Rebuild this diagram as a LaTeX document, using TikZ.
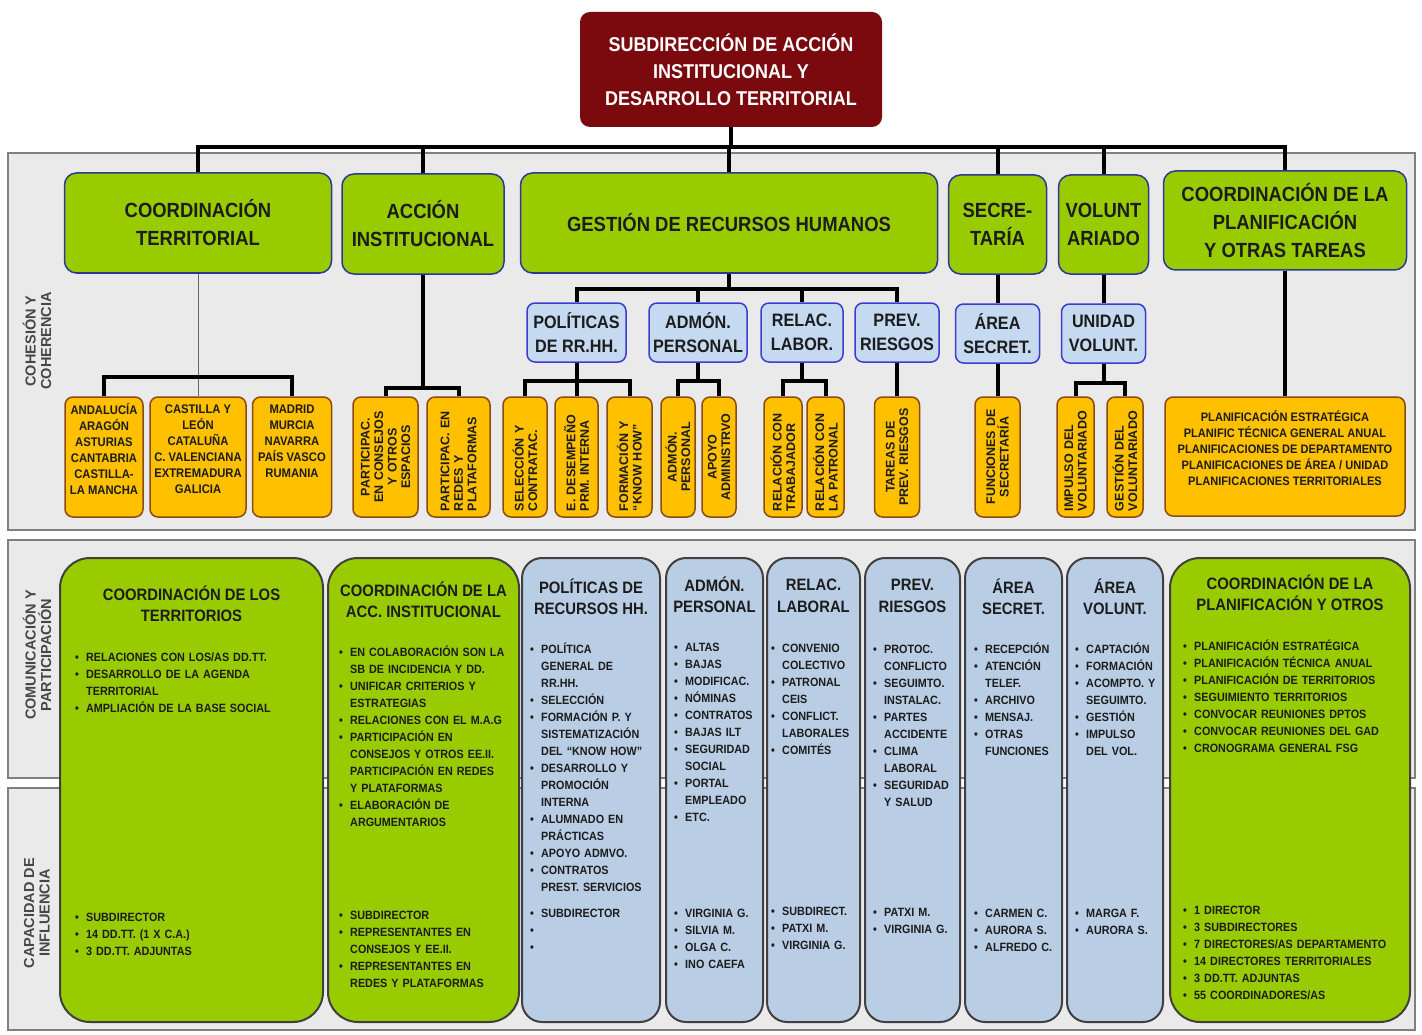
\documentclass[tikz,border=0pt]{standalone}
\usepackage{fontspec}
\setmainfont{Liberation Sans}[FakeStretch=0.9]
\newfontfamily\widefont{Liberation Sans}
\usepackage{tikz}
\definecolor{head red}{RGB}{122,10,14}
\definecolor{leaf green}{RGB}{153,204,0}
\definecolor{frame navy}{RGB}{45,55,150}
\definecolor{unit blue}{RGB}{197,217,241}
\definecolor{unit edge}{RGB}{60,60,205}
\definecolor{column blue}{RGB}{185,205,229}
\definecolor{task amber}{RGB}{255,192,0}
\definecolor{task edge}{RGB}{140,75,20}
\definecolor{band gray}{RGB}{234,234,234}
\definecolor{ink}{RGB}{28,28,28}
\newcommand{\bul}[1]{\hangindent=11pt\hangafter=1\noindent
  \makebox[11pt][l]{\textbullet}{\let\\\newline #1}\par}

\begin{document}
\begin{tikzpicture}[x=1pt, y=-1pt, line join=miter,
    headbox/.style = {fill=head red, text=white, rounded corners=10, align=center,
                      font=\fontsize{20}{27}\selectfont\bfseries},
    areabox/.style = {fill=leaf green, draw=frame navy, line width=1.5, rounded corners=12,
                      text=ink, align=center, font=\fontsize{20.5}{28}\selectfont\bfseries},
    unitbox/.style = {fill=unit blue, draw=unit edge, line width=1.5, rounded corners=8,
                      minimum height=59, text=ink, align=center,
                      font=\fontsize{18}{24}\selectfont\bfseries},
    taskbox/.style = {fill=task amber, draw=task edge, line width=1.5, rounded corners=8,
                      minimum height=120, text=ink, align=center,
                      font=\fontsize{12.5}{16}\selectfont\bfseries},
    taskrot/.style = {fill=task amber, draw=task edge, line width=1.5, rounded corners=8,
                      rotate=90, minimum width=120, text width=108, align=left, text=ink,
                      font=\widefont\fontsize{12.5}{13.5}\selectfont\bfseries},
    colgreen/.style = {fill=leaf green, draw=black!75, line width=2, rounded corners=30,
                       minimum height=464},
    colblue/.style = {fill=column blue, draw=black!75, line width=2, rounded corners=20,
                      minimum height=464},
    coltitle/.style = {align=center, text=ink, font=\fontsize{16.5}{21.5}\selectfont\bfseries},
    itemlist/.style = {anchor=base west, inner sep=0, text=ink, align=left,
                       font=\fontsize{12}{17}\selectfont\bfseries},
    band/.style = {fill=band gray, draw=black!50, line width=1.5},
    bandlabel/.style = {rotate=90, align=center, text=black!72,
                        font=\widefont\fontsize{14.5}{15.5}\selectfont\bfseries},
    wire/.style = {line width=4, black},
    thinwire/.style = {line width=0.8, black!60}]
  \useasboundingbox (0,0) rectangle (1422,1035);

  % the three bands
  \draw[band] (8,153) rectangle (1415,530);
  \draw[band] (8,540) rectangle (1415,778);
  \draw[band] (8,788) rectangle (1415,1030);
  \node[bandlabel] (lab1) at (37,341) {COHESIÓN Y\\COHERENCIA};
  \node[bandlabel] (lab2) at (37,655) {COMUNICACIÓN Y\\PARTICIPACIÓN};
  \node[bandlabel] (lab3) at (37,913) {CAPACIDAD DE\\INFLUENCIA};

  % head
  \node[headbox, minimum width=302, minimum height=115] (top) at (731,69.5)
    {SUBDIRECCIÓN DE ACCIÓN\\INSTITUCIONAL Y\\DESARROLLO TERRITORIAL};

  % areas
  \node[areabox, minimum width=267, minimum height=100] (gt) at (198,223) {COORDINACIÓN\\TERRITORIAL};
  \node[areabox, minimum width=162, minimum height=100] (ga) at (423,224) {ACCIÓN\\INSTITUCIONAL};
  \node[areabox, minimum width=417, minimum height=100] (gr) at (729,223) {GESTIÓN DE RECURSOS HUMANOS};
  \node[areabox, minimum width=98, minimum height=99] (gs) at (997.5,224.5) {SECRE-\\TARÍA};
  \node[areabox, minimum width=90, minimum height=99] (gv) at (1103.5,224.5) {VOLUNT\\ARIADO};
  \node[areabox, minimum width=243, minimum height=99] (gp) at (1285,220.5)
    {COORDINACIÓN DE LA\\PLANIFICACIÓN\\Y OTRAS TAREAS};

  % units
  \node[unitbox, minimum width=99] (bp) at (576.5,332.5) {POLÍTICAS\\DE RR.HH.};
  \node[unitbox, minimum width=98] (ba) at (698,332.5) {ADMÓN.\\PERSONAL};
  \node[unitbox, minimum width=82] (bl) at (802,332.5) {RELAC.\\LABOR.};
  \node[unitbox, minimum width=84] (br) at (897,332.5) {PREV.\\RIESGOS};
  \node[unitbox, minimum width=84] (bs) at (997.5,333.5) {ÁREA\\SECRET.};
  \node[unitbox, minimum width=84] (bu) at (1103.5,333.5) {UNIDAD\\VOLUNT.};

  % tasks
  \node[taskbox, minimum width=78] (yt1) at (104,457)
    {ANDALUCÍA\\ARAGÓN\\ASTURIAS\\CANTABRIA\\CASTILLA-\\LA MANCHA\\\mbox{}};
  \node[taskbox, minimum width=96] (yt2) at (198,457)
    {CASTILLA Y\\LEÓN\\CATALUÑA\\C. VALENCIANA\\EXTREMADURA\\GALICIA\\\mbox{}};
  \node[taskbox, minimum width=79] (yt3) at (292,457)
    {MADRID\\MURCIA\\NAVARRA\\PAÍS VASCO\\RUMANIA\\\mbox{}\\\mbox{}};
  \node[taskrot, minimum height=65, align=center] (ya1) at (385.5,457)
    {PARTICIPAC.\\EN CONSEJOS\\Y OTROS\\ESPACIOS};
  \node[taskrot, minimum height=63] (ya2) at (458.5,457) {PARTICIPAC. EN\\REDES Y\\PLATAFORMAS};
  \node[taskrot, minimum height=44] (yh1) at (525,457) {SELECCIÓN Y\\CONTRATAC.};
  \node[taskrot, minimum height=43] (yh2) at (576.5,457) {E. DESEMPEÑO\\PRM. INTERNA};
  \node[taskrot, minimum height=45] (yh3) at (629.5,457) {FORMACIÓN Y\\“KNOW HOW”};
  \node[taskrot, minimum height=34, align=center] (ym1) at (678,457) {ADMÓN.\\PERSONAL};
  \node[taskrot, minimum height=34, align=center] (ym2) at (719,457) {APOYO\\ADMINISTRVO};
  \node[taskrot, minimum height=38] (yl1) at (783,457) {RELACIÓN CON\\TRABAJADOR};
  \node[taskrot, minimum height=37] (yl2) at (825.5,457) {RELACIÓN CON\\LA PATRONAL};
  \node[taskrot, minimum height=45, align=center] (yr) at (897,457) {TAREAS DE\\PREV. RIESGOS};
  \node[taskrot, minimum height=45, align=center] (ys) at (997.5,457) {FUNCIONES DE\\SECRETARÍA};
  \node[taskrot, minimum height=37] (yv1) at (1075.5,457) {IMPULSO DEL\\VOLUNTARIADO};
  \node[taskrot, minimum height=36] (yv2) at (1125,457) {GESTIÓN DEL\\VOLUNTARIADO};
  \node[taskbox, minimum width=240, minimum height=119, font=\fontsize{12.3}{16}\selectfont\bfseries]
    (yq) at (1285,456.5)
    {PLANIFICACIÓN ESTRATÉGICA\\PLANIFIC TÉCNICA GENERAL ANUAL\\PLANIFICACIONES DE DEPARTAMENTO\\
     PLANIFICACIONES DE ÁREA / UNIDAD\\PLANIFICACIONES TERRITORIALES\\\mbox{}};

  % links
  \draw[wire] (top.south) -- ++(0,20) -| (gt.north);
  \draw[wire] (top.south) -- ++(0,20) -| (ga.north);
  \draw[wire] (top.south) -- ++(0,20) -| (gr.north);
  \draw[wire] (top.south) -- ++(0,20) -| (gs.north);
  \draw[wire] (top.south) -- ++(0,20) -| (gv.north);
  \draw[wire] (top.south) -- ++(0,20) -| (gp.north);
  \draw[thinwire] (gt.south) -- (yt2.north);
  \draw[wire] (yt1.north) -- ++(0,-19) -| (yt3.north);
  \draw[wire] (ga.south) -- ++(0,113) -| (ya1.east);
  \draw[wire] (ga.south) -- ++(0,113) -| (ya2.east);
  \draw[wire] (gr.south) -- ++(0,15) -| (bp.north);
  \draw[wire] (gr.south) -- ++(0,15) -| (ba.north);
  \draw[wire] (gr.south) -- ++(0,15) -| (bl.north);
  \draw[wire] (gr.south) -- ++(0,15) -| (br.north);
  \draw[wire] (bp.south) -- ++(0,18) -| (yh1.east);
  \draw[wire] (bp.south) -- ++(0,18) -| (yh2.east);
  \draw[wire] (bp.south) -- ++(0,18) -| (yh3.east);
  \draw[wire] (ba.south) -- ++(0,18) -| (ym1.east);
  \draw[wire] (ba.south) -- ++(0,18) -| (ym2.east);
  \draw[wire] (bl.south) -- ++(0,18) -| (yl1.east);
  \draw[wire] (bl.south) -- ++(0,18) -| (yl2.east);
  \draw[wire] (br.south) -- (yr.east);
  \draw[wire] (gs.south) -- (bs.north);
  \draw[wire] (bs.south) -- (ys.east);
  \draw[wire] (gv.south) -- (bu.north);
  \draw[wire] (bu.south) -- ++(0,19) -| (yv1.east);
  \draw[wire] (bu.south) -- ++(0,19) -| (yv2.east);
  \draw[wire] (gp.south) -- (yq.north);

  % columns
  \node[colgreen, minimum width=263] (c1) at (191.5,790) {};
  \node[colgreen, minimum width=191] (c2) at (423.5,790) {};
  \node[colblue, minimum width=138] (c3) at (591,790) {};
  \node[colblue, minimum width=97] (c4) at (714.5,790) {};
  \node[colblue, minimum width=93] (c5) at (813.5,790) {};
  \node[colblue, minimum width=95] (c6) at (912.5,790) {};
  \node[colblue, minimum width=97] (c7) at (1013.5,790) {};
  \node[colblue, minimum width=96] (c8) at (1115,790) {};
  \node[colgreen, minimum width=240] (c9) at (1290,790) {};

  \node[coltitle] (h1) at (191.5,604) {COORDINACIÓN DE LOS\\TERRITORIOS};
  \node[coltitle] (h2) at (423.5,600) {COORDINACIÓN DE LA\\ACC. INSTITUCIONAL};
  \node[coltitle] (h3) at (591,597) {POLÍTICAS DE\\RECURSOS HH.};
  \node[coltitle] (h4) at (714.5,595) {ADMÓN.\\PERSONAL};
  \node[coltitle] (h5) at (813.5,596) {RELAC.\\LABORAL};
  \node[coltitle] (h6) at (912.5,596) {PREV.\\RIESGOS};
  \node[coltitle] (h7) at (1013.5,597) {ÁREA\\SECRET.};
  \node[coltitle] (h8) at (1115,597) {ÁREA\\VOLUNT.};
  \node[coltitle] (h9) at (1290,593) {COORDINACIÓN DE LA\\PLANIFICACIÓN Y OTROS};

  % what each one does
  \node[itemlist, text width=240] (t1) at (75,661)
    {\bul{RELACIONES CON LOS/AS DD.TT.}\bul{DESARROLLO DE LA AGENDA\\TERRITORIAL}
     \bul{AMPLIACIÓN DE LA BASE SOCIAL}};
  \node[itemlist, text width=175] (t2) at (339,656)
    {\bul{EN COLABORACIÓN SON LA\\SB DE INCIDENCIA Y DD.}\bul{UNIFICAR CRITERIOS Y\\ESTRATEGIAS}
     \bul{RELACIONES CON EL M.A.G}
     \bul{PARTICIPACIÓN EN\\CONSEJOS Y OTROS EE.II.\\PARTICIPACIÓN EN REDES\\Y PLATAFORMAS}
     \bul{ELABORACIÓN DE\\ARGUMENTARIOS}};
  \node[itemlist, text width=126] (t3) at (530,653)
    {\bul{POLÍTICA\\GENERAL DE\\RR.HH.}\bul{SELECCIÓN}
     \bul{FORMACIÓN P. Y\\SISTEMATIZACIÓN\\DEL “KNOW HOW”}\bul{DESARROLLO Y\\PROMOCIÓN\\INTERNA}
     \bul{ALUMNADO EN\\PRÁCTICAS}\bul{APOYO ADMVO.}\bul{CONTRATOS\\PREST. SERVICIOS}};
  \node[itemlist, text width=87] (t4) at (674,651)
    {\bul{ALTAS}\bul{BAJAS}\bul{MODIFICAC.}\bul{NÓMINAS}\bul{CONTRATOS}\bul{BAJAS ILT}
     \bul{SEGURIDAD\\SOCIAL}\bul{PORTAL\\EMPLEADO}\bul{ETC.}};
  \node[itemlist, text width=87] (t5) at (771,652)
    {\bul{CONVENIO\\COLECTIVO}\bul{PATRONAL\\CEIS}\bul{CONFLICT.\\LABORALES}\bul{COMITÉS}};
  \node[itemlist, text width=85] (t6) at (873,653)
    {\bul{PROTOC.\\CONFLICTO}\bul{SEGUIMTO.\\INSTALAC.}\bul{PARTES\\ACCIDENTE}
     \bul{CLIMA\\LABORAL}\bul{SEGURIDAD\\Y SALUD}};
  \node[itemlist, text width=86] (t7) at (974,653)
    {\bul{RECEPCIÓN}\bul{ATENCIÓN\\TELEF.}\bul{ARCHIVO}\bul{MENSAJ.}\bul{OTRAS\\FUNCIONES}};
  \node[itemlist, text width=86] (t8) at (1075,653)
    {\bul{CAPTACIÓN}\bul{FORMACIÓN}\bul{ACOMPTO. Y\\SEGUIMTO.}\bul{GESTIÓN}\bul{IMPULSO\\DEL VOL.}};
  \node[itemlist, text width=222] (t9) at (1183,650)
    {\bul{PLANIFICACIÓN ESTRATÉGICA}\bul{PLANIFICACIÓN TÉCNICA ANUAL}
     \bul{PLANIFICACIÓN DE TERRITORIOS}\bul{SEGUIMIENTO TERRITORIOS}
     \bul{CONVOCAR REUNIONES DPTOS}\bul{CONVOCAR REUNIONES DEL GAD}\bul{CRONOGRAMA GENERAL FSG}};

  % who does it
  \node[itemlist, text width=240] (p1) at (75,921)
    {\bul{SUBDIRECTOR}\bul{14 DD.TT. (1 X C.A.)}\bul{3 DD.TT. ADJUNTAS}};
  \node[itemlist, text width=175] (p2) at (339,919)
    {\bul{SUBDIRECTOR}\bul{REPRESENTANTES EN\\CONSEJOS Y EE.II.}
     \bul{REPRESENTANTES EN\\REDES Y PLATAFORMAS}};
  \node[itemlist, text width=126] (p3) at (530,917) {\bul{SUBDIRECTOR}\bul{}\bul{}};
  \node[itemlist, text width=87] (p4) at (674,917)
    {\bul{VIRGINIA G.}\bul{SILVIA M.}\bul{OLGA C.}\bul{INO CAEFA}};
  \node[itemlist, text width=87] (p5) at (771,915) {\bul{SUBDIRECT.}\bul{PATXI M.}\bul{VIRGINIA G.}};
  \node[itemlist, text width=85] (p6) at (873,916) {\bul{PATXI M.}\bul{VIRGINIA G.}};
  \node[itemlist, text width=86] (p7) at (974,917) {\bul{CARMEN C.}\bul{AURORA S.}\bul{ALFREDO C.}};
  \node[itemlist, text width=86] (p8) at (1075,917) {\bul{MARGA F.}\bul{AURORA S.}};
  \node[itemlist, text width=222] (p9) at (1183,914)
    {\bul{1 DIRECTOR}\bul{3 SUBDIRECTORES}\bul{7 DIRECTORES/AS DEPARTAMENTO}
     \bul{14 DIRECTORES TERRITORIALES}\bul{3 DD.TT. ADJUNTAS}\bul{55 COORDINADORES/AS}};
\end{tikzpicture}
\end{document}
